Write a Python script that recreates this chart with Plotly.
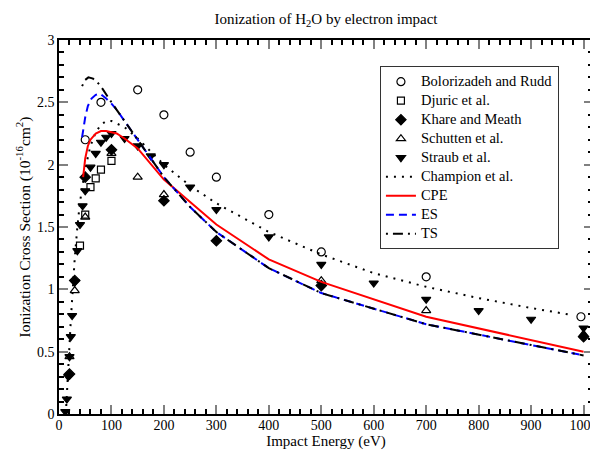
import plotly.graph_objects as go

# ---- Experimental data (10^-16 cm^2) ----
bol_E = [50, 80, 150, 200, 250, 300, 400, 500, 700, 995]
bol_s = [2.20, 2.50, 2.60, 2.40, 2.10, 1.90, 1.60, 1.30, 1.10, 0.78]

dju_E = [40, 50, 60, 70, 80, 100]
dju_s = [1.35, 1.60, 1.82, 1.89, 1.96, 2.03]

kha_E = [20, 30, 50, 100, 200, 300, 500, 1000]
kha_s = [0.32, 1.07, 1.90, 2.12, 1.71, 1.39, 1.03, 0.62]

sch_E = [20, 30, 50, 100, 150, 200, 500, 700, 1000]
sch_s = [0.46, 0.99, 1.58, 2.09, 1.90, 1.76, 1.07, 0.83, 0.64]

str_E = [12, 15, 17.5, 20, 22.5, 25, 30, 35, 40, 45, 50, 60, 70, 80, 90, 100,
         125, 150, 175, 200, 250, 300, 400, 500, 600, 700, 800, 900, 1000]
str_s = [0.02, 0.12, 0.30, 0.46, 0.62, 0.79, 1.06, 1.31, 1.52, 1.67, 1.79, 1.98,
         2.09, 2.18, 2.22, 2.25, 2.21, 2.15, 2.07, 2.00, 1.82, 1.64, 1.42, 1.20,
         1.05, 0.92, 0.83, 0.76, 0.69]

# ---- Theory curves ----
cha_E = [13, 15, 17.5, 20, 22.5, 25, 30, 35, 40, 50, 60, 70, 80, 90, 100, 125,
         150, 200, 250, 300, 400, 500, 600, 700, 800, 900, 970]
cha_s = [0.0, 0.19, 0.35, 0.55, 0.75, 0.95, 1.25, 1.50, 1.70, 1.97, 2.15, 2.26,
         2.32, 2.35, 2.35, 2.30, 2.21, 2.00, 1.83, 1.69, 1.46, 1.28, 1.13, 1.02,
         0.93, 0.85, 0.80]

cpe_E = [46, 50, 55, 60, 70, 80, 90, 100, 110, 125, 150, 200, 250, 300, 400, 500, 700, 1000]
cpe_s = [1.90, 2.05, 2.15, 2.20, 2.25, 2.27, 2.27, 2.26, 2.25, 2.21, 2.13, 1.88,
         1.70, 1.52, 1.24, 1.06, 0.78, 0.50]

es_E = [44, 50, 55, 62, 70, 78, 90, 100, 110, 125, 141, 150, 173, 200, 250, 300, 400, 500, 700, 1000]
es_s = [2.22, 2.38, 2.47, 2.53, 2.56, 2.57, 2.53, 2.49, 2.44, 2.35, 2.25, 2.19,
        2.06, 1.90, 1.66, 1.46, 1.17, 0.97, 0.72, 0.47]

ts_E = [44, 50, 56, 65, 78, 90, 100, 110, 125, 141, 150, 173, 200, 250, 300, 400, 500, 700, 1000]
ts_s = [2.63, 2.68, 2.70, 2.69, 2.64, 2.56, 2.50, 2.44, 2.35, 2.25, 2.19, 2.06,
        1.90, 1.66, 1.46, 1.17, 0.97, 0.72, 0.47]

FONT = "Times New Roman, Liberation Serif, serif"
fig = go.Figure()


def lg(name):
    return '<span style="font-size:14.5px">' + name + '</span>'


def pts(x, y, name, symbol, size):
    fig.add_trace(go.Scatter(x=x, y=y, mode="markers", name=lg(name),
                             marker=dict(symbol=symbol, size=size, color="black",
                                         line=dict(color="black", width=1.2))))


pts(bol_E, bol_s, "Bolorizadeh and Rudd", "circle-open", 8)
pts(dju_E, dju_s, "Djuric et al.", "square-open", 7)
pts(kha_E, kha_s, "Khare and Meath", "diamond", 8)
pts(sch_E, sch_s, "Schutten et al.", "triangle-up-open", 8)
pts(str_E, str_s, "Straub et al.", "triangle-down", 8)

fig.add_trace(go.Scatter(x=cha_E, y=cha_s, mode="lines", name=lg("Champion et al."),
                         line=dict(color="black", width=2, dash="2px,6px")))
fig.add_trace(go.Scatter(x=cpe_E, y=cpe_s, mode="lines", name=lg("CPE"),
                         line=dict(color="#ff0000", width=2)))
fig.add_trace(go.Scatter(x=es_E, y=es_s, mode="lines", name=lg("ES"),
                         line=dict(color="#0000ff", width=2, dash="8px,5px")))
fig.add_trace(go.Scatter(x=ts_E, y=ts_s, mode="lines", name=lg("TS"),
                         line=dict(color="black", width=2, dash="2px,5px,10px,5px")))

axis_common = dict(showline=True, linecolor="black", linewidth=1.5, mirror="allticks",
                   ticks="inside", tickcolor="#808080", ticklen=9, tickwidth=1.5,
                   showgrid=False, zeroline=False, automargin=False,
                   ticklabeloverflow="allow",
                   tickfont=dict(family=FONT, size=14, color="black"))

fig.update_xaxes(range=[0, 1018], tick0=0, dtick=100, ticklabelstandoff=-3,
                 minor=dict(ticks="inside", ticklen=5, tickcolor="black", dtick=20, showgrid=False),
                 title=dict(text="Impact Energy (eV)", font=dict(family=FONT, size=15, color="black"),
                            standoff=0),
                 **axis_common)
fig.update_yaxes(range=[0, 3], tick0=0, dtick=0.5,
                 minor=dict(ticks="inside", ticklen=5, tickcolor="black", dtick=0.1, showgrid=False),
                 title=dict(text="Ionization Cross Section (10<sup>-16</sup>cm<sup>2</sup>)",
                            font=dict(family=FONT, size=15.5, color="black"), standoff=3),
                 **axis_common)

fig.update_layout(
    width=590, height=442,
    margin=dict(l=51, r=5, t=32, b=36),
    paper_bgcolor="white", plot_bgcolor="white",
    title=dict(text="Ionization of H<sub>2</sub>O by electron impact",
               font=dict(family=FONT, size=15, color="black"),
               x=0.5, xref="paper", xanchor="center", y=0.976, yanchor="middle"),
    legend=dict(x=0.601, y=0.93, xanchor="left", yanchor="top",
                bgcolor="white", bordercolor="#333", borderwidth=1,
                font=dict(family=FONT, size=12, color="black"),
                itemwidth=30, tracegroupgap=0),
    showlegend=True,
)

fig.write_html("out.html")
